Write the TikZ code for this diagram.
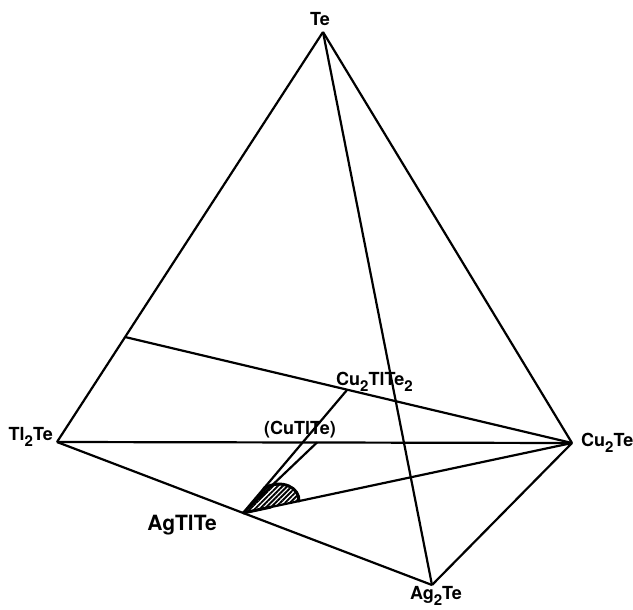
\documentclass[tikz,border=0pt]{standalone}
\usepackage{fontspec}
\setmainfont{TeX Gyre Heros}
\usetikzlibrary{calc,patterns.meta}
\newcommand{\ix}[1]{\raisebox{-0.35em}{\fontsize{15}{15}\selectfont #1}}
\begin{document}
\begin{tikzpicture}[x=1pt,y=-1pt,
	edge/.style={line width=2.2pt},
	lbl/.style={font=\fontsize{18}{18}\selectfont\bfseries,inner sep=0pt},
	biglbl/.style={font=\fontsize{21}{21}\selectfont\bfseries,inner sep=0pt}]
	\useasboundingbox (0,0) rectangle (633,610);
	\path
	(323,32) coordinate(te)
	(57,442) coordinate(tlte)
	(572,443) coordinate(cute)
	(432,585) coordinate(agte)
	(125,337) coordinate(side)
	(347,390) coordinate(cutltetwo)
	(317,442.5) coordinate(cutlte)
	(243,513) coordinate(agtlte)
	;
	\path
	(320,26) node[lbl,anchor=base](lte){Te}
	(53,440) node[lbl,anchor=base east](ltlte){Tl\ix{2}Te}
	(581,446) node[lbl,anchor=base west](lcute){Cu\ix{2}Te}
	(436,599) node[lbl,anchor=base](lagte){Ag\ix{2}Te}
	(336,385) node[lbl,anchor=base west](lcutltetwo){Cu\ix{2}TlTe\ix{2}}
	(264,434) node[lbl,anchor=base west](lcutlte){(CuTlTe)}
	(217,530) node[biglbl,anchor=base east](lagtlte){AgTlTe}
	;
	% tetrahedron
	\draw[edge,line join=round] (te)--(tlte);
	\draw[edge,line join=round] (te)--(cute);
	\draw[edge] (te)--(agte);
	\draw[edge] (tlte)--(cute);
	\draw[edge] (tlte)--(agte);
	\draw[edge] (cute)--(agte);
	% section
	\draw[edge] (side)--(cute);
	\draw[edge] (agtlte)--(cutltetwo);
	\draw[edge] (agtlte)--(cutlte);
	\draw[edge] (agtlte)--(cute);
	% solid solution region
	\coordinate (lensa) at ($(agtlte)!0.2!(cutltetwo)$);
	\coordinate (lensb) at ($(agtlte)!0.17!(cute)$);
	\fill[pattern={Lines[angle=45,distance=3.4pt,line width=1.9pt]}]
		(agtlte)--(lensa) .. controls (282,478) and (300,488) .. (lensb)--cycle;
	\draw[line width=3pt,line cap=round] (lensa) .. controls (282,478) and (300,488) .. (lensb);
	\draw[line width=3pt] (agtlte)--($(agtlte)!0.5!(lensb)$);
\end{tikzpicture}
\end{document}
